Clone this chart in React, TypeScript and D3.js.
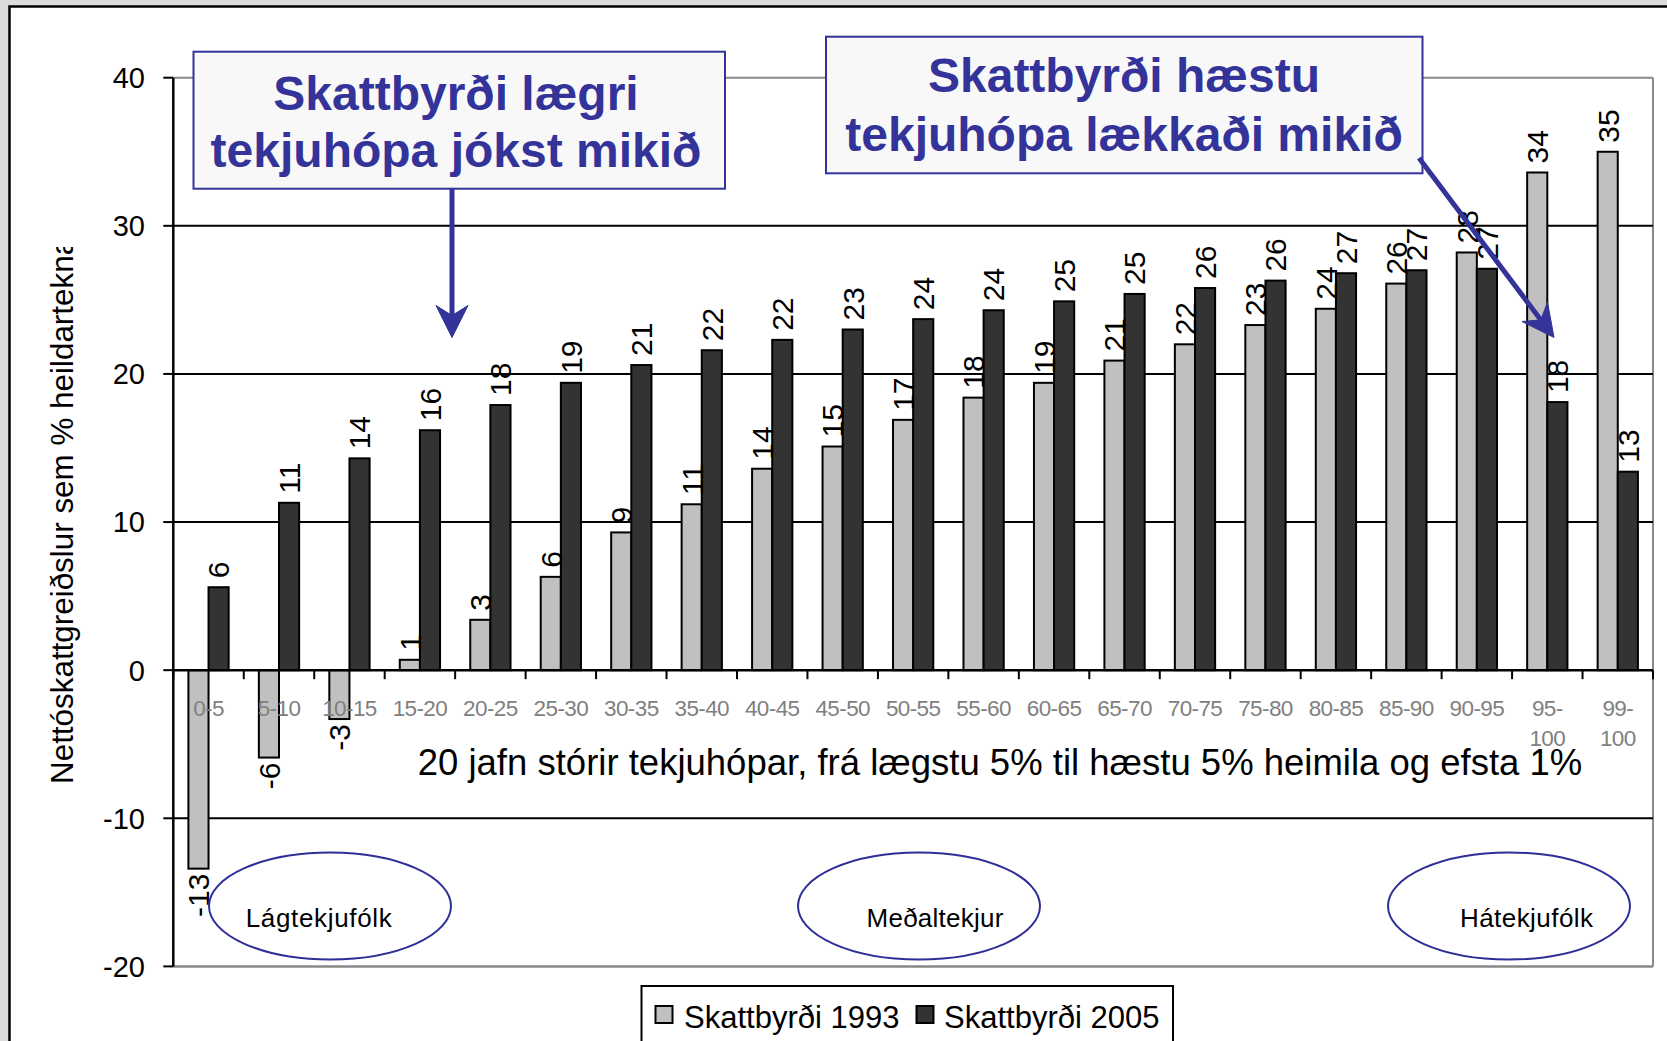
import React from 'react';
import * as d3 from 'd3';

const categories = ['0-5','5-10','10-15','15-20','20-25','25-30','30-35','35-40','40-45','45-50','50-55','55-60','60-65','65-70','70-75','75-80','80-85','85-90','90-95','95-100','99-100'];
const categoryLines: string[][] = [['0-5'],['5-10'],['10-15'],['15-20'],['20-25'],['25-30'],['30-35'],['35-40'],['40-45'],['45-50'],['50-55'],['55-60'],['60-65'],['65-70'],['70-75'],['75-80'],['80-85'],['85-90'],['90-95'],['95-','100'],['99-','100']];
const series = ['Skattbyrði 1993', 'Skattbyrði 2005'];
const values1993 = [-13.4,-5.9,-3.3,0.7,3.4,6.3,9.3,11.2,13.6,15.1,16.9,18.4,19.4,20.9,22.0,23.3,24.4,26.1,28.2,33.6,35.0];
const values2005 = [5.6,11.3,14.3,16.2,17.9,19.4,20.6,21.6,22.3,23.0,23.7,24.3,24.9,25.4,25.8,26.3,26.8,27.0,27.1,18.1,13.4];
const yTicks = [-20,-10,0,10,20,30,40];
const yTitle = 'Nettóskattgreiðslur sem % heildartekna';
const xTitle = '20 jafn stórir tekjuhópar, frá lægstu 5% til hæstu 5% heimila og efsta 1%';
const box1Lines = ['Skattbyrði lægri', 'tekjuhópa jókst mikið'];
const box2Lines = ['Skattbyrði hæstu', 'tekjuhópa lækkaði mikið'];
const ellipseLabels = ['Lágtekjufólk', 'Meðaltekjur', 'Hátekjufólk'];

const FONT = '"Liberation Sans", Arial, Helvetica, sans-serif';
const BLUE = '#333399';

function arrow(x1: number, y1: number, x2: number, y2: number) {
  const dx = x2 - x1, dy = y2 - y1;
  const len = Math.hypot(dx, dy);
  const ux = dx / len, uy = dy / len;
  const nx = -uy, ny = ux;
  const L = 32, W = 16, N = 10;
  const bx = x2 - L * ux, by = y2 - L * uy;
  const mx = x2 - (L - N) * ux, my = y2 - (L - N) * uy;
  const head = `M${x2},${y2} L${bx + W * nx},${by + W * ny} L${mx},${my} L${bx - W * nx},${by - W * ny} Z`;
  return (
    <g>
      <line x1={x1} y1={y1} x2={mx + ux * 2} y2={my + uy * 2} stroke={BLUE} strokeWidth={5} />
      <path d={head} fill={BLUE} stroke={BLUE} strokeWidth={1} strokeLinejoin="miter" />
    </g>
  );
}

export default function App() {
  const W = 1667, H = 1041;
  const left = 173.3, right = 1653, top = 77.7, bottom = 966.4;
  const x = d3.scaleBand<string>().domain(categories).range([left, right]).paddingInner(0).paddingOuter(0);
  const xs = d3.scaleBand<string>().domain(series).range([0, x.bandwidth()]).paddingInner(0).paddingOuter(0.75);
  const y = d3.scaleLinear().domain([-20, 40]).range([bottom, top]);
  const y0 = y(0);
  const fills = ['#c0c0c0', '#333333'];
  const data = [values1993, values2005];
  const LF = 30;

  const bars: React.ReactNode[] = [];
  const labels: React.ReactNode[] = [];
  categories.forEach((c, i) => {
    data.forEach((vals, s) => {
      const v = vals[i];
      const bx = (x(c) as number) + (xs(series[s]) as number);
      const bw = xs.bandwidth();
      const yt = y(Math.max(v, 0));
      const yb = y(Math.min(v, 0));
      bars.push(<rect key={`b${i}-${s}`} x={bx} y={yt} width={bw} height={yb - yt} fill={fills[s]} stroke="#000" strokeWidth={2} />);
      const cx = bx + bw / 2;
      if (v >= 0) {
        labels.push(<text key={`l${i}-${s}`} transform={`translate(${cx},${yt - 9}) rotate(-90)`} dy="0.36em" textAnchor="start" fontSize={LF} fontFamily={FONT} fill="#000">{String(Math.round(v))}</text>);
      } else {
        labels.push(<text key={`l${i}-${s}`} transform={`translate(${cx},${yb + 5}) rotate(-90)`} dy="0.36em" textAnchor="end" fontSize={LF} fontFamily={FONT} fill="#000">{String(Math.round(v))}</text>);
      }
    });
  });

  const boundaries = d3.range(categories.length + 1).map(i => left + i * x.bandwidth());
  const ellipses = [
    { cx: 330, cy: 906, tx: 318.7, tl: 146 },
    { cx: 919, cy: 906, tx: 935, tl: 137 },
    { cx: 1509, cy: 906, tx: 1526.5, tl: 133 },
  ];

  return (
    <svg width={W} height={H} style={{ position: 'absolute', left: 0, top: 0, display: 'block' }} xmlns="http://www.w3.org/2000/svg">
      <defs>
        <clipPath id="ytclip"><rect x={0} y={247} width={150} height={800} /></clipPath>
      </defs>
      <rect x={0} y={0} width={W} height={H} fill="#dcdcdc" />
      <rect x={9.5} y={6.5} width={W + 20} height={H + 20} fill="#fff" stroke="#000" strokeWidth={2.5} />

      {/* plot frame */}
      <line x1={left} x2={right} y1={top} y2={top} stroke="#888" strokeWidth={2} />
      <line x1={left} x2={right} y1={bottom} y2={bottom} stroke="#888" strokeWidth={2.5} />
      <line x1={right} x2={right} y1={top} y2={bottom} stroke="#888" strokeWidth={2} />
      {yTicks.filter(t => t !== 40 && t !== -20 && t !== 0).map(t => (
        <line key={`g${t}`} x1={left} x2={right} y1={y(t)} y2={y(t)} stroke="#000" strokeWidth={2} />
      ))}

      {bars}

      {/* axes */}
      <line x1={left} x2={right} y1={y0} y2={y0} stroke="#000" strokeWidth={2.5} />
      {boundaries.map((bx, i) => (
        <line key={`t${i}`} x1={bx} x2={bx} y1={y0} y2={y0 + 9} stroke="#000" strokeWidth={2} />
      ))}
      <line x1={left} x2={left} y1={top} y2={bottom} stroke="#000" strokeWidth={2.5} />
      {yTicks.map(t => (
        <g key={`yt${t}`}>
          <line x1={left - 10} x2={left} y1={y(t)} y2={y(t)} stroke="#000" strokeWidth={2} />
          <text x={145} y={y(t)} dy="0.36em" textAnchor="end" fontSize={29} fontFamily={FONT} fill="#000">{String(t)}</text>
        </g>
      ))}

      {categories.map((c, i) => (
        <text key={`c${i}`} x={(x(c) as number) + x.bandwidth() / 2} y={716} textAnchor="middle" fontSize={22.5} fontFamily={FONT} fill="#808080" letterSpacing={-0.6}>
          {categoryLines[i].map((ln, j) => (
            <tspan key={j} x={(x(c) as number) + x.bandwidth() / 2} dy={j === 0 ? 0 : 30}>{ln}</tspan>
          ))}
        </text>
      ))}

      {labels}

      <text x={1000} y={775} textAnchor="middle" fontSize={36.5} fontFamily={FONT} fill="#000">{xTitle}</text>

      <g clipPath="url(#ytclip)">
        <text transform="translate(72.5,784) rotate(-90)" textAnchor="start" fontSize={31.4} fontFamily={FONT} fill="#000">{yTitle}</text>
      </g>

      {/* ellipses */}
      {ellipses.map((e, i) => (
        <g key={`e${i}`}>
          <ellipse cx={e.cx} cy={e.cy} rx={121} ry={53.5} fill="none" stroke="#2e2e98" strokeWidth={2} />
          <text x={e.tx} y={926.5} textAnchor="middle" fontSize={26} fontFamily={FONT} fill="#000" textLength={e.tl} lengthAdjust="spacing">{ellipseLabels[i]}</text>
        </g>
      ))}

      {/* annotation boxes */}
      <rect x={193.5} y={51.7} width={531.5} height={137} fill="#f8f8f8" stroke={BLUE} strokeWidth={2} />
      {box1Lines.map((ln, i) => (
        <text key={`a${i}`} x={456} y={109.5 + i * 57} textAnchor="middle" fontSize={48} fontWeight="bold" fontFamily={FONT} fill={BLUE}>{ln}</text>
      ))}
      {arrow(452, 189, 452, 337.5)}

      <rect x={826} y={36.7} width={596.5} height={136.6} fill="#f8f8f8" stroke={BLUE} strokeWidth={2} />
      {box2Lines.map((ln, i) => (
        <text key={`b${i}`} x={1124} y={92 + i * 58.5} textAnchor="middle" fontSize={48} fontWeight="bold" fontFamily={FONT} fill={BLUE}>{ln}</text>
      ))}
      {arrow(1419, 158, 1554, 337.5)}

      {/* legend */}
      <rect x={641.5} y={986} width={531.5} height={90} fill="#fff" stroke="#000" strokeWidth={2} />
      <rect x={655.5} y={1006} width={17} height={17} fill={fills[0]} stroke="#000" strokeWidth={2} />
      <text x={684} y={1027.5} fontSize={31} fontFamily={FONT} fill="#000">{series[0]}</text>
      <rect x={916.5} y={1006} width={17} height={17} fill={fills[1]} stroke="#000" strokeWidth={2} />
      <text x={944} y={1027.5} fontSize={31} fontFamily={FONT} fill="#000">{series[1]}</text>
    </svg>
  );
}
